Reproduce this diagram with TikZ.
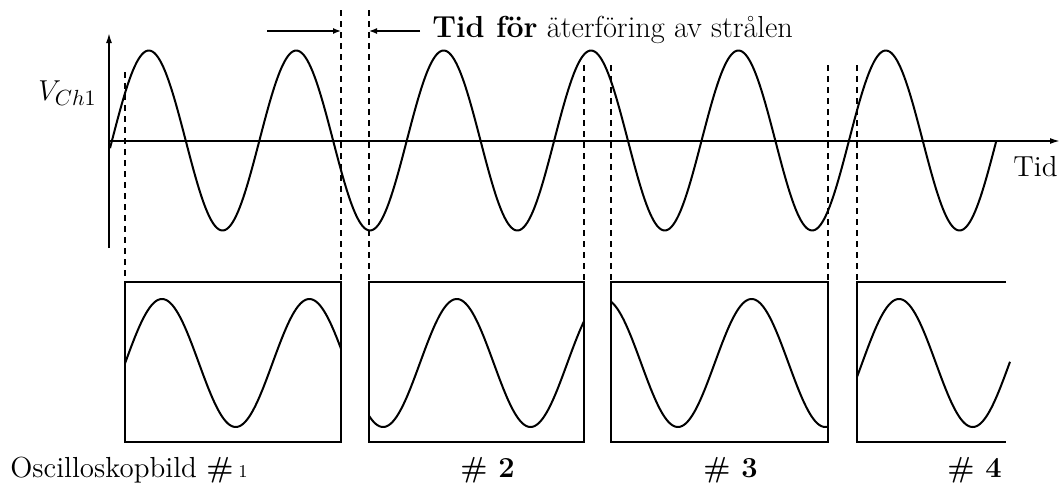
\documentclass[tikz,border=0pt]{standalone}
\usetikzlibrary{arrows.meta}
\begin{document}
\begin{tikzpicture}[x=0.5pt,y=-0.5pt,
  wave/.style={line width=1pt,line join=round},
  axis/.style={line width=0.8pt},
  guide/.style={line width=0.7pt,dash pattern=on 3pt off 2.5pt},
  frame/.style={line width=0.9pt},
  lbl/.style={inner sep=0pt,anchor=base west},
  marker/.style={line width=0.7pt,-{Latex[length=4pt,width=3pt]}}]
\useasboundingbox (0,0) rectangle (1061,493);
% axes
\coordinate (yb) at (109,248);
\coordinate (yt) at (109,33);
\coordinate (xl) at (109,141);
\coordinate (xr) at (1060,141);
\draw[axis,-{Latex[length=5pt,width=3pt]}] (yb) -- (yt);
\draw[axis,-{Latex[length=5pt,width=3pt]}] (xl) -- (xr);
% main signal
\draw[wave] plot[domain=110:996.4,samples=500] (\x,{140.5-90*sin(2.44233*(\x-112))});
% dashed guides
\coordinate (g1t) at (125,72);   \coordinate (g1b) at (125,282);
\coordinate (g2t) at (341,10);   \coordinate (g2b) at (341,282);
\coordinate (g3t) at (369,10);   \coordinate (g3b) at (369,282);
\coordinate (g4t) at (584,65);   \coordinate (g4b) at (584,282);
\coordinate (g5t) at (611,65);   \coordinate (g5b) at (611,282);
\coordinate (g6t) at (828,65);   \coordinate (g6b) at (828,282);
\coordinate (g7t) at (857,65);   \coordinate (g7b) at (857,282);
\foreach \i in {1,...,7} \draw[guide] (g\i t) -- (g\i b);
% retrace arrows
\coordinate (al) at (267,31);
\coordinate (ar) at (341,31);
\coordinate (bl) at (369,31);
\coordinate (br) at (420,31);
\draw[marker] (al) -- (ar);
\draw[marker] (br) -- (bl);
\node[lbl] (title) at (432,37) {\fontsize{15.2}{18}\selectfont\textbf{Tid för} äterföring av strålen};
% axis labels
\node[lbl] (vlab) at (38,100) {\fontsize{15}{18}\selectfont$V_{Ch1}$};
\node[lbl] (tlab) at (1013,176) {\fontsize{14.5}{17}\selectfont Tid};
% screens
\draw[frame] (125,282) rectangle (341,442);
\draw[frame] (369,282) rectangle (584,442);
\draw[frame] (611,282) rectangle (828,442);
\draw[frame] (1006,282) -- (857,282) -- (857,442) -- (1006,442);
\draw[wave] plot[domain=125:341,samples=150] (\x,{363-64*cos(2.44233*(\x-162))});
\draw[wave] plot[domain=369:584,samples=150] (\x,{363-64*cos(2.44233*(\x-162))});
\draw[wave] plot[domain=611:828,samples=150] (\x,{363-64*cos(2.44233*(\x-162))});
\draw[wave] plot[domain=857:1010,samples=120] (\x,{363-64*cos(2.44233*(\x-162))});
% captions
\node[lbl] (c1) at (10,477) {\fontsize{14.5}{17}\selectfont Oscilloskopbild \textbf{\#}\,{\small 1}};
\node[lbl] (c2) at (460,477) {\fontsize{14.5}{17}\selectfont\textbf{\# 2}};
\node[lbl] (c3) at (703,477) {\fontsize{14.5}{17}\selectfont\textbf{\# 3}};
\node[lbl] (c4) at (947,477) {\fontsize{14.5}{17}\selectfont\textbf{\# 4}};
\end{tikzpicture}
\end{document}
